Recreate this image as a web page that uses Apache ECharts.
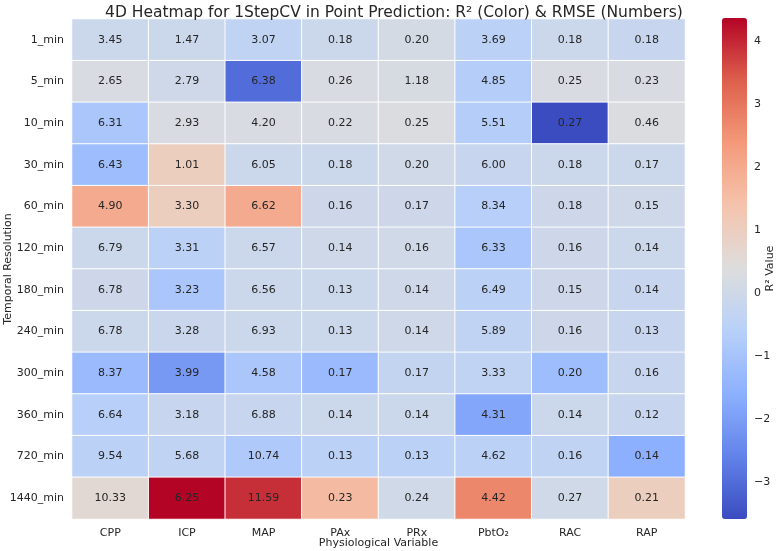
<!DOCTYPE html>
<html>
<head>
<meta charset="utf-8">
<script src="https://cdn.jsdelivr.net/npm/echarts@6/dist/echarts.min.js"></script>
<style>
  html, body { margin: 0; padding: 0; background: #fff; }
  #chart { width: 784px; height: 551px; }
</style>
</head>
<body>
<div id="chart"></div>
<script>
const variables = ['CPP', 'ICP', 'MAP', 'PAx', 'PRx', 'PbtO₂', 'RAC', 'RAP']
const resolutions = ['1_min', '5_min', '10_min', '30_min', '60_min', '120_min',
  '180_min', '240_min', '300_min', '360_min', '720_min', '1440_min']

// RMSE, printed in the cells (rows = resolutions, cols = variables)
const rmse = [
  [3.45, 1.47, 3.07, 0.18, 0.20, 3.69, 0.18, 0.18],
  [2.65, 2.79, 6.38, 0.26, 1.18, 4.85, 0.25, 0.23],
  [6.31, 2.93, 4.20, 0.22, 0.25, 5.51, 0.27, 0.46],
  [6.43, 1.01, 6.05, 0.18, 0.20, 6.00, 0.18, 0.17],
  [4.90, 3.30, 6.62, 0.16, 0.17, 8.34, 0.18, 0.15],
  [6.79, 3.31, 6.57, 0.14, 0.16, 6.33, 0.16, 0.14],
  [6.78, 3.23, 6.56, 0.13, 0.14, 6.49, 0.15, 0.14],
  [6.78, 3.28, 6.93, 0.13, 0.14, 5.89, 0.16, 0.13],
  [8.37, 3.99, 4.58, 0.17, 0.17, 3.33, 0.20, 0.16],
  [6.64, 3.18, 6.88, 0.14, 0.14, 4.31, 0.14, 0.12],
  [9.54, 5.68, 10.74, 0.13, 0.13, 4.62, 0.16, 0.14],
  [10.33, 6.25, 11.59, 0.23, 0.24, 4.42, 0.27, 0.21]
]

// R2
const r2 = [
  [-0.1, -0.1, -0.4, -0.1, 0.15, -0.5, -0.1, -0.2],
  [0.25, 0.0, -3.0, 0.25, 0.2, -0.7, 0.25, 0.25],
  [-0.9, 0.25, 0.25, 0.25, 0.3, -0.7, -3.58, 0.3],
  [-1.2, 1.0, -0.1, -0.1, 0.05, -0.2, -0.1, -0.1],
  [2.0, 1.0, 2.0, -0.05, -0.05, -0.6, -0.05, 0.0],
  [-0.1, -0.5, -0.1, 0.0, 0.05, -0.9, -0.05, -0.1],
  [-0.05, -0.9, -0.1, -0.1, 0.0, -0.5, -0.05, -0.2],
  [-0.1, -0.15, -0.1, -0.1, 0.0, -0.4, -0.05, -0.2],
  [-1.3, -2.1, -0.9, -1.3, -0.3, -0.4, -1.2, -0.2],
  [-0.6, -0.2, -0.2, -0.1, -0.1, -1.8, -0.1, -0.2],
  [-0.5, -0.4, -0.8, -0.5, -0.5, -0.5, -0.4, -1.6],
  [0.6, 4.36, 3.9, 1.6, 0.05, 2.7, 0.05, 1.0]
]

const colorbarTicks = [-3, -2, -1, 0, 1, 2, 3, 4]
const r2Min = -3.58
const r2Max = 4.36

const coolwarm = ['#3b4cc0', '#6282ea', '#8db0fe', '#b8d0f9', '#dddddd',
  '#f5c4ad', '#f49a7b', '#de604d', '#b40426']

const cells = []
resolutions.forEach((res, i) => {
  variables.forEach((v, j) => {
    cells.push([j, i, r2[i][j], rmse[i][j]])
  })
})

const chart = echarts.init(document.getElementById('chart'))
const font = 'DejaVu Sans'
const option = {
  backgroundColor: '#fff',
  textStyle: { fontFamily: font },
  animation: false,
  title: {
    text: '4D Heatmap for 1StepCV in Point Prediction: R² (Color) & RMSE (Numbers)',
    left: 389,
    textAlign: 'center',
    top: 0,
    textStyle: { fontFamily: font, fontSize: 15.5, fontWeight: 'normal', color: '#262626' }
  },
  grid: [
    { left: 72, right: 99, top: 19, bottom: 32, outerBoundsMode: 'none' },
    { left: 722, width: 25, top: 18, height: 501, outerBoundsMode: 'none' }
  ],
  xAxis: [
    {
      type: 'category',
      data: variables,
      gridIndex: 0,
      name: 'Physiological Variable',
      nameLocation: 'middle',
      nameGap: 19,
      nameMoveOverlap: false,
      nameTextStyle: { fontSize: 11, color: '#262626' },
      axisLine: { show: false },
      axisTick: { alignWithLabel: true, length: 4, lineStyle: { color: '#333' } },
      axisLabel: { fontSize: 11, color: '#262626', margin: 9 },
      splitLine: { show: false }
    },
    { type: 'value', gridIndex: 1, show: false, min: 0, max: 1 }
  ],
  yAxis: [
    {
      type: 'category',
      data: resolutions,
      inverse: true,
      gridIndex: 0,
      name: 'Temporal Resolution',
      nameLocation: 'middle',
      nameGap: 58,
      nameRotate: 90,
      nameMoveOverlap: false,
      nameTextStyle: { fontSize: 11, color: '#262626' },
      axisLine: { show: false },
      axisTick: { alignWithLabel: true, length: 4, lineStyle: { color: '#333' } },
      axisLabel: { fontSize: 11, color: '#262626', margin: 8 },
      splitLine: { show: false }
    },
    {
      type: 'value',
      gridIndex: 1,
      position: 'right',
      min: r2Min,
      max: r2Max,
      name: 'R² Value',
      nameLocation: 'middle',
      nameGap: 18,
      nameRotate: 90,
      nameMoveOverlap: false,
      nameTextStyle: { fontSize: 11, color: '#262626' },
      axisLine: { show: false },
      axisTick: { show: true, length: 4, customValues: colorbarTicks, lineStyle: { color: '#333' } },
      axisLabel: {
        fontSize: 11, color: '#262626', margin: 7, customValues: colorbarTicks,
        formatter: v => String(v).replace('-', '\u2212')
      },
      splitLine: { show: false }
    }
  ],
  visualMap: {
    type: 'continuous',
    min: r2Min,
    max: r2Max,
    dimension: 2,
    seriesIndex: 0,
    calculable: false,
    hoverLink: false,
    left: 722,
    top: 18,
    padding: 0,
    itemWidth: 25,
    itemHeight: 501,
    text: null,
    showLabel: false,
    inRange: { color: coolwarm }
  },
  series: [
    {
      type: 'heatmap',
      xAxisIndex: 0,
      yAxisIndex: 0,
      data: cells,
      itemStyle: { borderColor: '#fff', borderWidth: 1 },
      label: {
        show: true,
        fontSize: 11,
        color: '#262626',
        formatter: p => p.data[3].toFixed(2)
      },
      emphasis: { disabled: true }
    },
    { type: 'scatter', xAxisIndex: 1, yAxisIndex: 1, data: [], silent: true }
  ]
}
chart.setOption(option)
</script>
</body>
</html>
